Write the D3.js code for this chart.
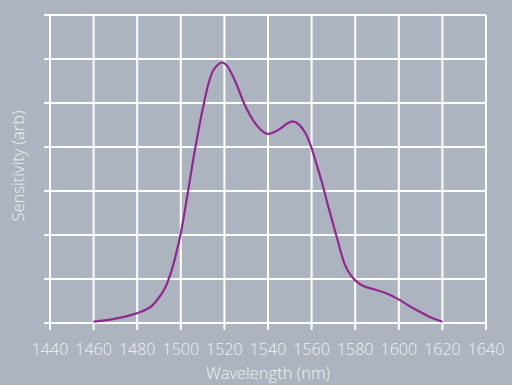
<!DOCTYPE html>
<html><head><meta charset="utf-8">
<script src="https://cdn.jsdelivr.net/npm/d3@7"></script>
<style>html,body{margin:0;padding:0;background:#acb5bf;}svg{display:block;}</style>
</head><body>
<svg id="c" width="512" height="385"></svg>
<script>
const xTicks = [1440,1460,1480,1500,1520,1540,1560,1580,1600,1620,1640];
const yTicks = [0,1,2,3,4,5,6,7];
const wavelength = [1460,1470,1477,1482,1486,1490,1493,1495.5,1498,1500,1502,1504,1506,1508,1510,1512.6,1515,1518.8,1521,1524.9,1529.4,1534,1538.6,1540.5,1543,1546.3,1549,1551.6,1554,1557,1559.5,1562,1564.6,1567.7,1571.5,1575.3,1578,1580,1583.7,1589,1594.5,1600.5,1605,1609.5,1615,1620];
const sensitivity = [0.03,0.10,0.18,0.26,0.36,0.58,0.82,1.15,1.6,2.04,2.6,3.2,3.8,4.35,4.85,5.42,5.75,5.92,5.86,5.5,4.95,4.55,4.32,4.30,4.34,4.44,4.54,4.58,4.52,4.33,4.05,3.65,3.22,2.64,1.96,1.32,1.08,0.97,0.84,0.76,0.67,0.52,0.38,0.26,0.12,0.03];

const svg = d3.select("#c");
const x = d3.scaleLinear().domain([1440,1640]).range([50,486]);
const y = d3.scaleLinear().domain([0,7]).range([323,15]);
const font = "'Open Sans', 'DejaVu Sans', sans-serif";
const txt = "#eef0f3";

// grid
svg.append("g").selectAll("line").data(xTicks).join("line")
  .attr("x1", d=>x(d)).attr("x2", d=>x(d)).attr("y1", y(7)).attr("y2", y(0)+7)
  .attr("stroke","#fff").attr("stroke-width",2);
svg.append("g").selectAll("line").data(yTicks).join("line")
  .attr("x1", x(1440)-6).attr("x2", x(1640)).attr("y1", d=>y(d)).attr("y2", d=>y(d))
  .attr("stroke","#fff").attr("stroke-width",2);

// tick labels
svg.append("g").selectAll("text").data(xTicks).join("text")
  .attr("x", d=>x(d)).attr("y", 355)
  .attr("text-anchor","middle").attr("font-family",font).attr("font-weight",300)
  .attr("font-size",16).attr("fill",txt).text(d=>d);

// curve
const pts = wavelength.map((w,i)=>[w,sensitivity[i]]);
svg.append("path").datum(pts)
  .attr("d", d3.line().x(d=>x(d[0])).y(d=>y(d[1])).curve(d3.curveCatmullRom.alpha(0.5)))
  .attr("fill","none").attr("stroke","#93278f").attr("stroke-width",2.2);

// axis titles
svg.append("text").attr("x",268).attr("y",379).attr("text-anchor","middle")
  .attr("font-family",font).attr("font-weight",300).attr("font-size",16.5).attr("fill",txt)
  .text("Wavelength (nm)");
svg.append("text").attr("transform","translate(24,166) rotate(-90)").attr("text-anchor","middle")
  .attr("font-family",font).attr("font-weight",300).attr("font-size",16.5).attr("fill",txt)
  .text("Sensitivity (arb)");
</script>
</body></html>
